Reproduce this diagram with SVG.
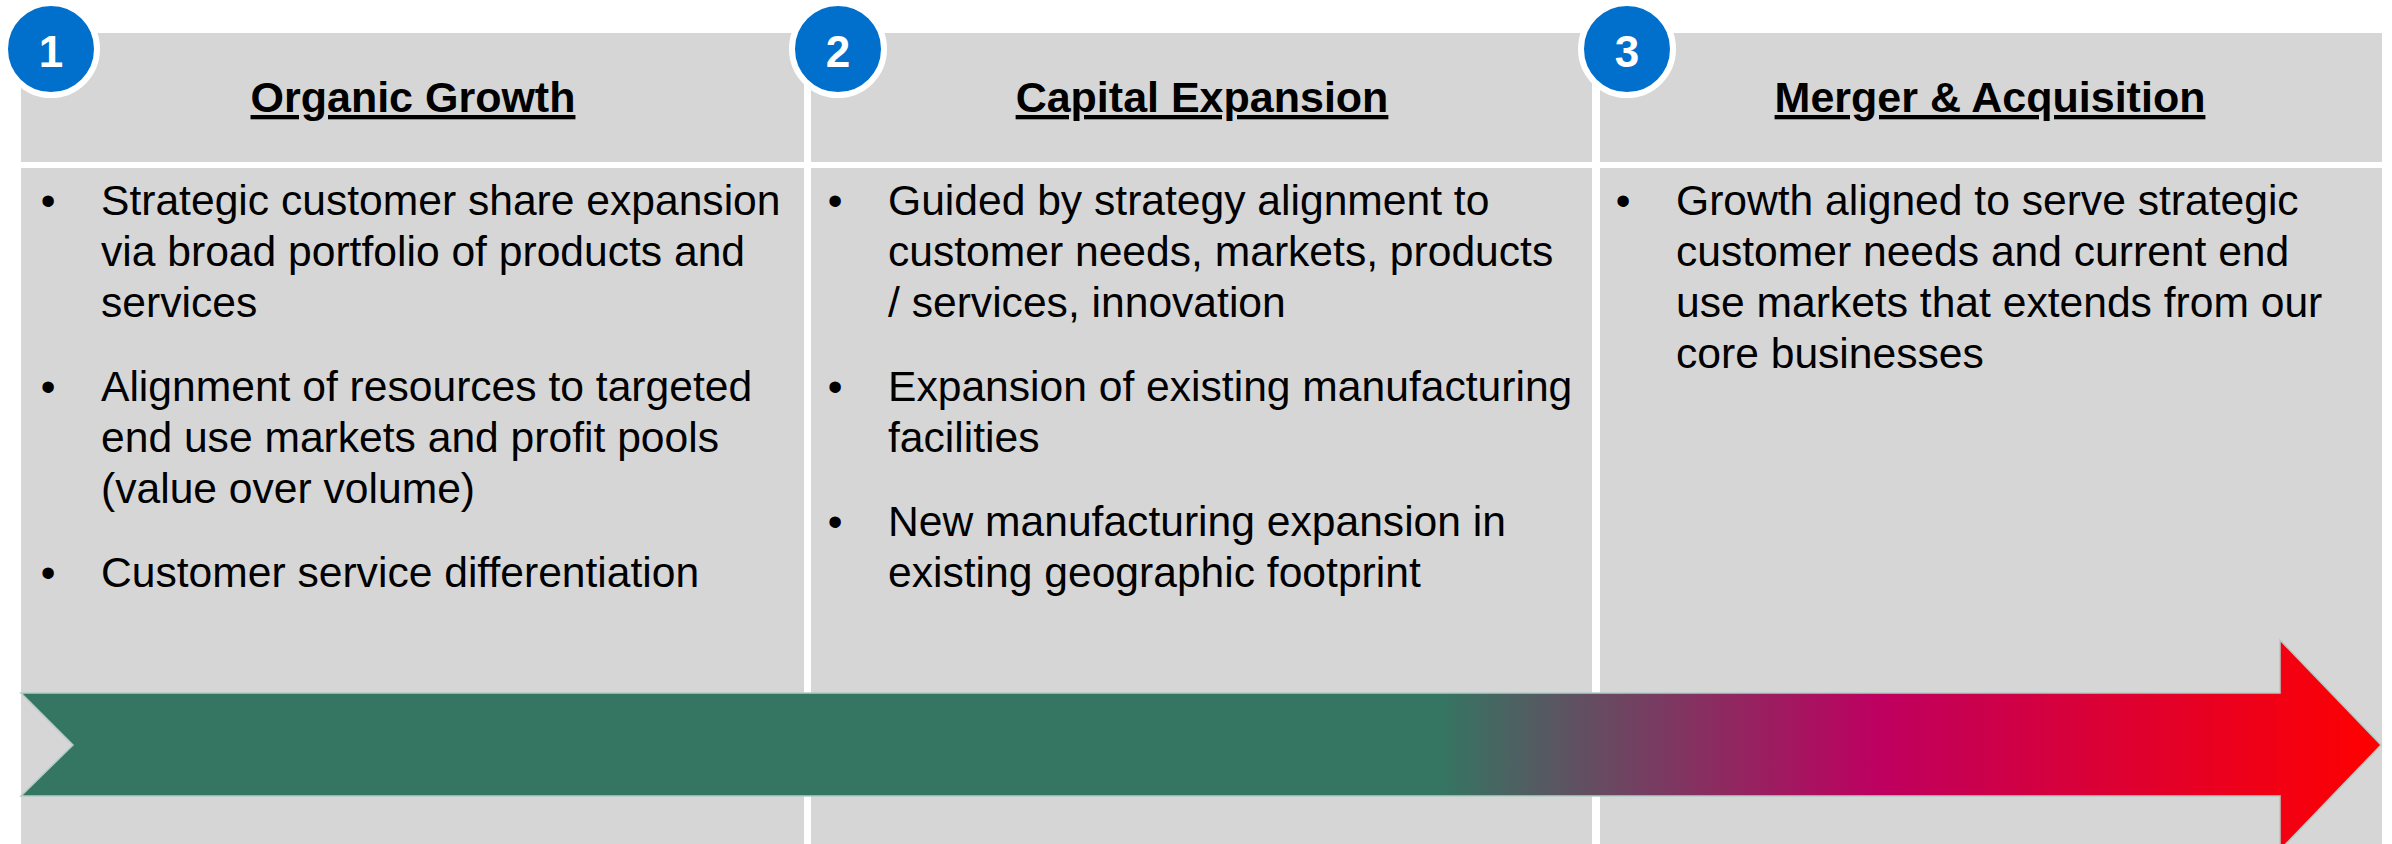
<svg xmlns="http://www.w3.org/2000/svg" width="2392" height="844" viewBox="0 0 2392 844">
<style>
.panel{fill:#D6D6D6}
.hdr{font-family:"Liberation Sans",Arial,sans-serif;font-size:43px;font-weight:bold;fill:#000;text-anchor:middle;text-decoration:underline}
.body{font-family:"Liberation Sans",Arial,sans-serif;font-size:42.6px;fill:#000}
.bul{font-family:"Liberation Sans",Arial,sans-serif;font-size:42px;fill:#000;text-anchor:middle}
.badge{fill:#0070CC;stroke:#FFFFFF;stroke-width:6}
.num{font-family:"Liberation Sans",Arial,sans-serif;font-size:44px;font-weight:bold;fill:#FFFFFF;text-anchor:middle}
</style>
<defs>
<linearGradient id="arrowGrad" gradientUnits="userSpaceOnUse" x1="21" y1="0" x2="2381" y2="0">
<stop offset="0" stop-color="#347662"/>
<stop offset="0.6" stop-color="#347662"/>
<stop offset="0.787" stop-color="#BE0060"/>
<stop offset="1" stop-color="#FF0000"/>
</linearGradient>
</defs>
<rect x="0" y="0" width="2392" height="844" fill="#FFFFFF"/>

<g id="col1">
<rect class="panel" x="21" y="33" width="783" height="129"/>
<rect class="panel" x="21" y="168" width="783" height="680"/>
<text class="hdr" x="413" y="112">Organic Growth</text>
<text class="bul" x="48" y="215">•</text>
<text class="body" x="101" y="215">Strategic customer share expansion</text>
<text class="body" x="101" y="266">via broad portfolio of products and</text>
<text class="body" x="101" y="317">services</text>
<text class="bul" x="48" y="401">•</text>
<text class="body" x="101" y="401">Alignment of resources to targeted</text>
<text class="body" x="101" y="452">end use markets and profit pools</text>
<text class="body" x="101" y="503">(value over volume)</text>
<text class="bul" x="48" y="587">•</text>
<text class="body" x="101" y="587">Customer service differentiation</text>
</g>

<g id="col2">
<rect class="panel" x="811" y="33" width="781" height="129"/>
<rect class="panel" x="811" y="168" width="781" height="680"/>
<text class="hdr" x="1202" y="112">Capital Expansion</text>
<text class="bul" x="835" y="215">•</text>
<text class="body" x="888" y="215">Guided by strategy alignment to</text>
<text class="body" x="888" y="266">customer needs, markets, products</text>
<text class="body" x="888" y="317">/ services, innovation</text>
<text class="bul" x="835" y="401">•</text>
<text class="body" x="888" y="401">Expansion of existing manufacturing</text>
<text class="body" x="888" y="452">facilities</text>
<text class="bul" x="835" y="536">•</text>
<text class="body" x="888" y="536">New manufacturing expansion in</text>
<text class="body" x="888" y="587">existing geographic footprint</text>
</g>

<g id="col3">
<rect class="panel" x="1600" y="33" width="782" height="129"/>
<rect class="panel" x="1600" y="168" width="782" height="680"/>
<text class="hdr" x="1990" y="112">Merger &amp; Acquisition</text>
<text class="bul" x="1623" y="215">•</text>
<text class="body" x="1676" y="215">Growth aligned to serve strategic</text>
<text class="body" x="1676" y="266">customer needs and current end</text>
<text class="body" x="1676" y="317">use markets that extends from our</text>
<text class="body" x="1676" y="368">core businesses</text>
</g>

<g id="connectors">
<path d="M21,693 L2280,693 L2280,640 L2381,745 L2280,850 L2280,796 L21,796 L73,745 Z" fill="url(#arrowGrad)" stroke="#B4CBC3" stroke-width="1.5"/>
</g>

<g id="badge1">
<circle class="badge" cx="51" cy="49" r="46"/>
<text class="num" x="51" y="67">1</text>
</g>
<g id="badge2">
<circle class="badge" cx="838" cy="49" r="46"/>
<text class="num" x="838" y="67">2</text>
</g>
<g id="badge3">
<circle class="badge" cx="1627" cy="49" r="46"/>
<text class="num" x="1627" y="67">3</text>
</g>
</svg>
